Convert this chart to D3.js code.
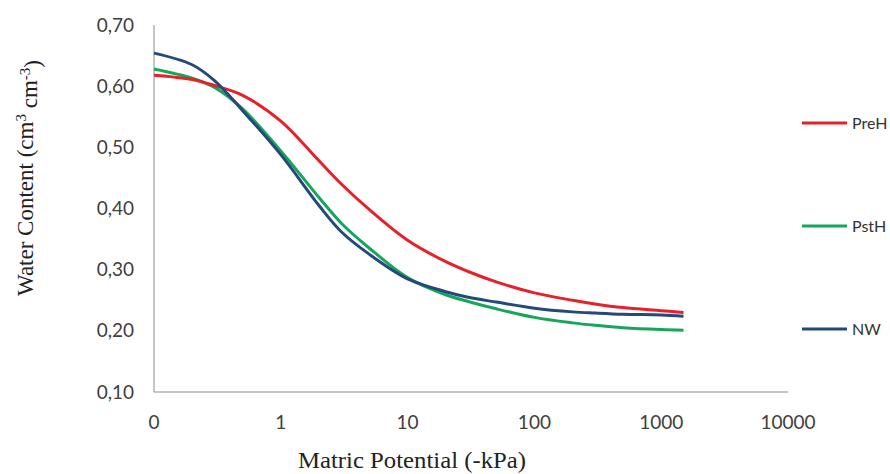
<!DOCTYPE html>
<html>
<head>
<meta charset="utf-8">
<script src="https://cdn.jsdelivr.net/npm/d3@7"></script>
<style>
  body { margin: 0; background: #fff; }
  .tick-label { font-family: Lato, "Open Sans", sans-serif; font-size: 19px; fill: #404040; }
  .axis-title { font-family: "Liberation Serif", "Times New Roman", serif; font-size: 23px; fill: #222; }
  .legend-label { font-family: Lato, "Open Sans", sans-serif; font-size: 16px; fill: #333; }
</style>
</head>
<body>
<svg id="chart" width="890" height="474"></svg>
<script>
// matric potential (-kPa), shared by all series
var potential = [0.1, 0.2, 0.3, 0.5, 1, 2, 3, 5, 10, 20, 30, 50, 100, 200, 300, 500, 1000, 1500]

var preH = [0.618, 0.611, 0.601, 0.585, 0.543, 0.478, 0.440, 0.398, 0.348, 0.313, 0.297, 0.280, 0.262, 0.250, 0.244, 0.238, 0.233, 0.230]
var pstH = [0.628, 0.613, 0.598, 0.563, 0.494, 0.418, 0.376, 0.335, 0.287, 0.259, 0.248, 0.236, 0.222, 0.213, 0.209, 0.205, 0.202, 0.201]
var nw   = [0.654, 0.635, 0.609, 0.560, 0.488, 0.405, 0.362, 0.325, 0.285, 0.264, 0.255, 0.247, 0.237, 0.231, 0.229, 0.227, 0.226, 0.224]

var seriesNames = ['PreH', 'PstH', 'NW']
var seriesColors = ['#e6212a', '#17a55b', '#24497a']

var xTicks = [0.1, 1, 10, 100, 1000, 10000]
var xTickLabels = ['0', '1', '10', '100', '1000', '10000']
var yTicks = [0.1, 0.2, 0.3, 0.4, 0.5, 0.6, 0.7]

var svg = d3.select('#chart')

var x = d3.scaleLog().domain([0.1, 10000]).range([154, 788])
var y = d3.scaleLinear().domain([0.1, 0.7]).range([392, 25])

// axis lines only, no ticks (excel style)
svg.append('line')
  .attr('x1', x(0.1)).attr('x2', x(0.1))
  .attr('y1', y(0.7)).attr('y2', y(0.1))
  .attr('stroke', '#8c8c8c').attr('stroke-width', 1)

svg.append('line')
  .attr('x1', x(0.1)).attr('x2', x(10000))
  .attr('y1', y(0.1)).attr('y2', y(0.1))
  .attr('stroke', '#8c8c8c').attr('stroke-width', 1)

svg.selectAll('.ytick')
  .data(yTicks)
  .enter()
  .append('text')
  .attr('class', 'tick-label')
  .attr('x', 134)
  .attr('y', function(d){ return y(d) })
  .attr('dy', '0.35em')
  .attr('text-anchor', 'end')
  .text(function(d){ return d.toFixed(2).replace('.', ',') })

svg.selectAll('.xtick')
  .data(xTicks)
  .enter()
  .append('text')
  .attr('class', 'tick-label')
  .attr('x', function(d){ return x(d) })
  .attr('y', 422)
  .attr('dy', '0.35em')
  .attr('text-anchor', 'middle')
  .text(function(d, i){ return xTickLabels[i] })

// curves, smoothed like excel
var line = d3.line()
  .x(function(d){ return x(d[0]) })
  .y(function(d){ return y(d[1]) })
  .curve(d3.curveCatmullRom.alpha(0.5))

var allSeries = [preH, pstH, nw]
// draw order: green, red, navy on top
;[1, 0, 2].forEach(function(i){
  svg.append('path')
    .datum(potential.map(function(p, j){ return [p, allSeries[i][j]] }))
    .attr('fill', 'none')
    .attr('stroke', seriesColors[i])
    .attr('stroke-width', 3)
    .attr('d', line)
})

// legend
var legendY = [123, 226, 329]
var lg = svg.selectAll('.legend')
  .data(seriesNames)
  .enter()
  .append('g')
  .attr('transform', function(d, i){ return 'translate(802,' + legendY[i] + ')' })

lg.append('line')
  .attr('x1', 0).attr('x2', 45)
  .attr('stroke', function(d, i){ return seriesColors[i] })
  .attr('stroke-width', 3)

lg.append('text')
  .attr('class', 'legend-label')
  .attr('x', 50)
  .attr('dy', '0.35em')
  .text(function(d){ return d })

// axis titles
svg.append('text')
  .attr('class', 'axis-title')
  .attr('x', 412)
  .attr('y', 460)
  .attr('dy', '0.35em')
  .attr('text-anchor', 'middle')
  .attr('textLength', 228)
  .attr('lengthAdjust', 'spacingAndGlyphs')
  .text('Matric Potential (-kPa)')

var yt = svg.append('text')
  .attr('class', 'axis-title')
  .attr('transform', 'translate(25,178) rotate(-90)')
  .attr('text-anchor', 'middle')
  .attr('dy', '0.35em')
yt.append('tspan').text('Water Content (cm')
yt.append('tspan').attr('dy', '-0.45em').style('font-size', '15px').text('3')
yt.append('tspan').attr('dy', '0.45em').text(' cm')
yt.append('tspan').attr('dy', '-0.45em').style('font-size', '15px').text('-3')
yt.append('tspan').attr('dy', '0.45em').text(')')
</script>
</body>
</html>
